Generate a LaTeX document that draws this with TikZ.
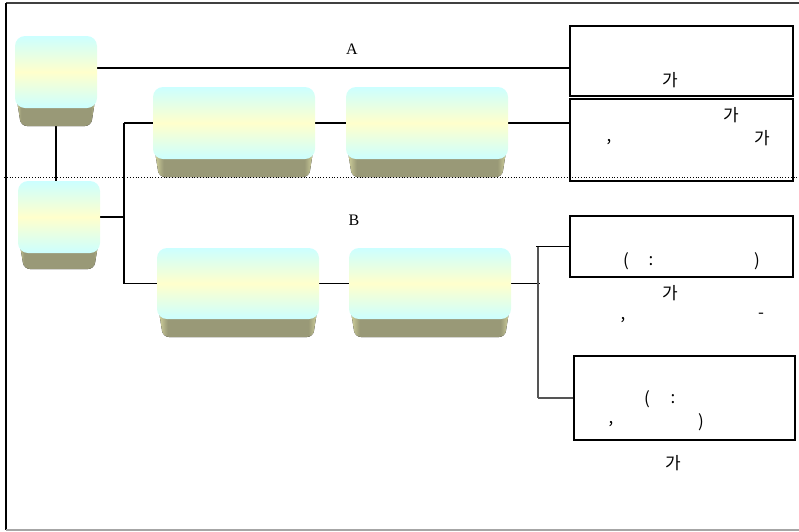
\documentclass[tikz,border=0pt]{standalone}
\usepackage{fontspec}
\setmainfont{Liberation Serif}
\newfontfamily\kr{Noto Sans CJK KR}
\usetikzlibrary{backgrounds}
\definecolor{faceC}{RGB}{204,255,255}
\definecolor{faceY}{RGB}{255,255,204}
\definecolor{sideM}{RGB}{153,153,119}
\definecolor{sideL}{RGB}{214,214,160}
\definecolor{spineG}{RGB}{85,85,85}
\pgfdeclarehorizontalshading{sideshade}{100bp}{color(0bp)=(sideL); color(25bp)=(sideL); color(28bp)=(sideM); color(72bp)=(sideM); color(75bp)=(sideL); color(100bp)=(sideL)}
\tikzset{
  face/.style={rectangle, rounded corners=10pt, inner sep=0pt, draw=none,
    top color=faceC, bottom color=faceC, middle color=faceY},
  side/.style={shading=sideshade, rounded corners=6pt},
  conn/.style={draw=black, line width=1.1pt},
  spine/.style={draw=spineG, line width=1.5pt},
  infobox/.style={draw=black, line width=1.5pt, inner sep=0pt},
  lbl/.style={font=\fontsize{16}{18}\selectfont, inner sep=0pt},
  kt/.style={font=\kr\fontsize{17}{20}\selectfont, inner sep=0pt},
}
\newcommand\tdbox[6]{%
  \fill[side] (#2+1,#5-14) -- (#2+6,#6) -- (#4-6,#6) -- (#4-1,#5-14) -- cycle;
  \node[face, minimum width=#4-#2, minimum height=#5-#3] (#1) at ({(#2+#4)/2},{(#3+#5)/2}) {};
}
\begin{document}
\begin{tikzpicture}[x=1pt,y=-1pt]
\useasboundingbox (0,0) rectangle (799,531);
% frame
\draw[line width=1.2pt, black!75] (6,3) -- (799,3);
\draw[line width=1.8pt, black] (6,3) -- (6,530);
\draw[line width=1.2pt, black!35] (6,530) -- (799,530);

% 3D boxes
\tdbox{b1}{15}{36}{97}{108}{126}
\tdbox{b2}{18}{181}{100}{253}{269}
\tdbox{b3}{153}{87}{315}{159}{177}
\tdbox{b4}{346}{87}{508}{159}{177}
\tdbox{b5}{157}{248}{319}{319}{337}
\tdbox{b6}{349}{248}{511}{319}{337}

% right boxes
\node[infobox, minimum width=223pt, minimum height=70pt] (a1) at (681.5,61) {};
\node[infobox, minimum width=223pt, minimum height=82pt] (a2) at (681.5,140) {};
\node[infobox, minimum width=223pt, minimum height=61pt] (c1) at (681.5,246.5) {};
\node[infobox, minimum width=221pt, minimum height=84pt] (c2) at (684.5,398) {};

\coordinate (sp) at (124,125);
\coordinate (sq) at (538,243);

\begin{pgfonlayer}{background}
\draw[conn] ([yshift=4pt]b1.east) -- ([yshift=4pt]b1.east -| a1.west);
\draw[conn] (b1.south) -- (b1.south |- b2.north);
\draw[conn] (b2.east) -- (b2.east -| sp);
\draw[conn] (b3.west -| sp) -- (b5.west -| sp);
\draw[conn] (b3.west) -- (b3.west -| sp);
\draw[conn] (b5.west) -- (b5.west -| sp);
\draw[conn] (b3.east) -- (b4.west);
\draw[conn] (b5.east) -- (b6.west);
\draw[conn] (b4.east) -- (b4.east -| a2.west);
\draw[conn] (b6.east) -- ([xshift=2pt]b6.east -| sq);
\draw[spine] (c1.west -| sq) -- (c2.west -| sq);
\draw[conn] ([xshift=-2pt]c1.west -| sq) -- (c1.west);
\draw[spine] (c2.west -| sq) -- (c2.west);
\end{pgfonlayer}

% dotted divider
\draw[dotted, line width=0.8pt] (4,177) -- (799,177);

% labels
\node[lbl] (la) at (352,49) {A};
\node[lbl] (lb) at (354,220) {B};

\node[kt] (t1) at (670,80) {가};
\node[kt] (t2) at (731,115) {가};
\node[kt] (t3) at (609,142) {,};
\node[kt] (t4) at (762,138) {가};

\node[kt] (t5) at (626,261) {(};
\node[kt] (t6) at (651,261) {:};
\node[kt] (t7) at (757,261) {)};
\node[kt] (t8) at (670,293) {가};
\node[kt] (t9) at (623,320) {,};
\node[kt] (t10) at (761,316) {-};

\node[kt] (t11) at (647,399) {(};
\node[kt] (t12) at (673,399) {:};
\node[kt] (t13) at (611,424) {,};
\node[kt] (t14) at (701,422) {)};
\node[kt] (t15) at (673,463) {가};
\end{tikzpicture}
\end{document}
